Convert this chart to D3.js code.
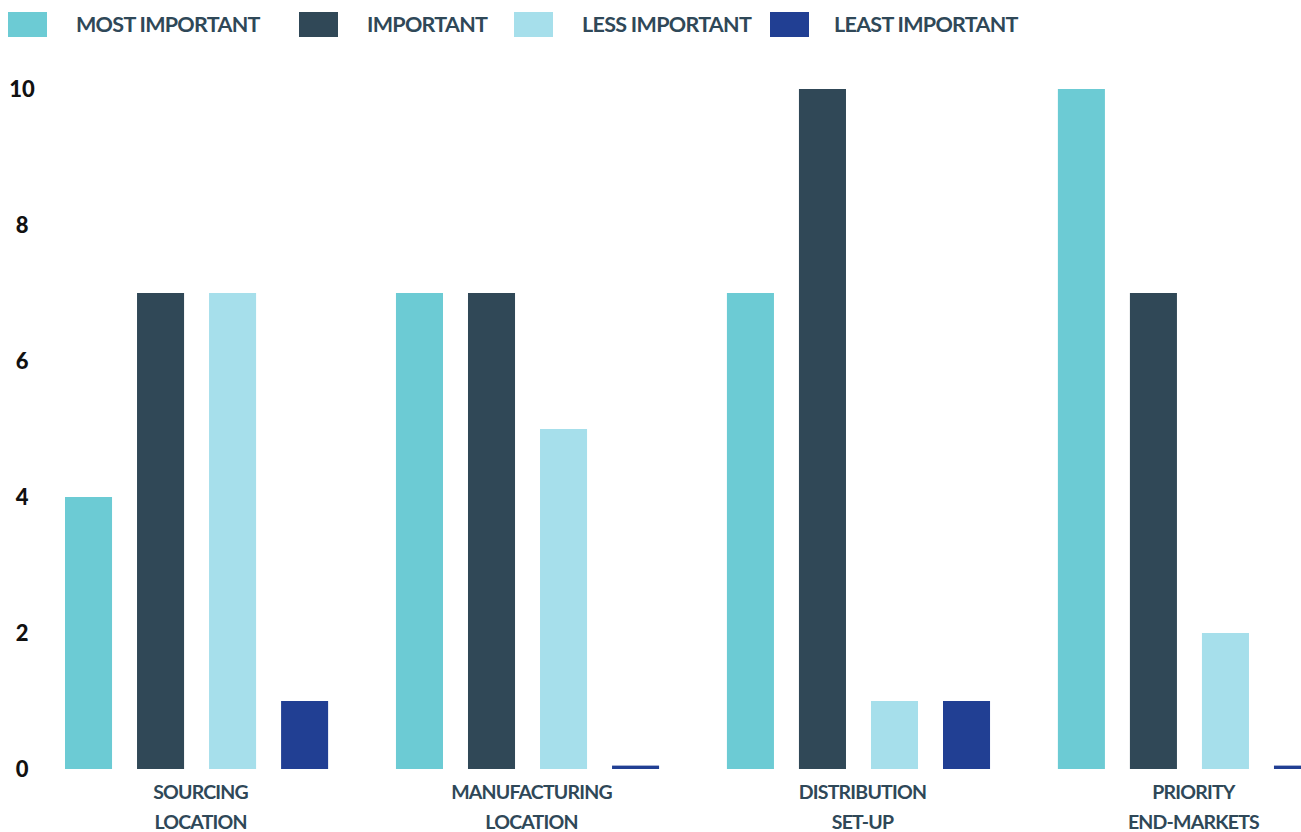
<!DOCTYPE html>
<html>
<head>
<meta charset="utf-8">
<script src="https://cdn.jsdelivr.net/npm/d3@7"></script>
<style>
  body { margin: 0; background: #fff; }
  svg { display: block; }
  text { font-family: Lato, "Open Sans", sans-serif; }
</style>
</head>
<body>
<svg></svg>
<script>
var width = 1301,
    height = 832;

// data
var categories = [["SOURCING", "LOCATION"], ["MANUFACTURING", "LOCATION"], ["DISTRIBUTION", "SET-UP"], ["PRIORITY", "END-MARKETS"]];
var seriesNames = ["MOST IMPORTANT", "IMPORTANT", "LESS IMPORTANT", "LEAST IMPORTANT"];
var mostImportant = [4, 7, 7, 10];
var important = [7, 7, 10, 7];
var lessImportant = [7, 5, 1, 2];
var leastImportant = [1, 0.05, 1, 0.05];
var yTicks = [0, 2, 4, 6, 8, 10];

var colors = ["#6ccbd4", "#304857", "#a6dfeb", "#213f93"];
var textColor = "#2f4858";

var seriesValues = [mostImportant, important, lessImportant, leastImportant];
var data = categories.map(function(c, i) {
    return {
        key: c.join(" "),
        label: c,
        values: seriesNames.map(function(s, j) {
            return {series: s, value: seriesValues[j][i], color: colors[j]};
        })
    };
});

var svg = d3.select("svg")
    .attr("width", width)
    .attr("height", height);

///////////////////////
//
// Scales
//
///////////////////////

var x0 = d3.scaleBand()
    .domain(data.map(function(d) { return d.key; }))
    .range([65, 1321])
    .paddingInner(0.205)
    .paddingOuter(0);

var x1 = d3.scaleBand()
    .domain(seriesNames)
    .range([0, x0.bandwidth()])
    .paddingInner(0.347)
    .paddingOuter(0);

var y = d3.scaleLinear()
    .domain([0, 10])
    .range([769, 89]);

///////////////////////
//
// Y axis labels
//
///////////////////////

var yAxis = svg.append("g")
    .attr("transform", "translate(22,0)")
    .call(d3.axisLeft(y).tickValues(yTicks).tickSize(0).tickPadding(0));

yAxis.select(".domain").remove();
yAxis.selectAll("text")
    .attr("text-anchor", "middle")
    .attr("dy", "0.36em")
    .style("font-family", "Lato, sans-serif")
    .style("font-weight", 900)
    .style("font-size", "22px")
    .attr("fill", "#111");

///////////////////////
//
// Bars
//
///////////////////////

var groups = svg.selectAll(".group")
    .data(data)
    .enter()
    .append("g")
    .attr("class", "group")
    .attr("transform", function(d) { return "translate(" + x0(d.key) + ",0)"; });

groups.selectAll("rect")
    .data(function(d) { return d.values; })
    .enter()
    .append("rect")
    .attr("x", function(d) { return x1(d.series); })
    .attr("width", x1.bandwidth())
    .attr("y", function(d) { return y(d.value); })
    .attr("height", function(d) { return y(0) - y(d.value); })
    .attr("fill", function(d) { return d.color; });

///////////////////////
//
// Category labels
//
///////////////////////

groups.append("text")
    .attr("x", x0.bandwidth() / 2 + 4)
    .attr("y", 799)
    .attr("text-anchor", "middle")
    .attr("fill", textColor)
    .style("font-size", "19.5px")
    .style("letter-spacing", "-0.8px")
    .style("font-weight", 700)
    .selectAll("tspan")
    .data(function(d) { return d.label; })
    .enter()
    .append("tspan")
    .attr("x", x0.bandwidth() / 2 + 4)
    .attr("dy", function(d, i) { return i ? 30 : 0; })
    .text(function(d) { return d; });

///////////////////////
//
// Legend
//
///////////////////////

var legendX = [8, 299, 514, 770];

var legend = svg.selectAll(".legend")
    .data(seriesNames)
    .enter()
    .append("g")
    .attr("class", "legend")
    .attr("transform", function(d, i) { return "translate(" + legendX[i] + ",12)"; });

legend.append("rect")
    .attr("width", 39)
    .attr("height", 25)
    .attr("fill", function(d, i) { return colors[i]; });

legend.append("text")
    .attr("x", function(d, i) { return i == 3 ? 64 : 68; })
    .attr("y", 12.5)
    .attr("dy", "0.36em")
    .attr("fill", textColor)
    .style("font-size", "21.5px")
    .style("letter-spacing", "-0.7px")
    .style("font-weight", 700)
    .text(function(d) { return d; });
</script>
</body>
</html>
